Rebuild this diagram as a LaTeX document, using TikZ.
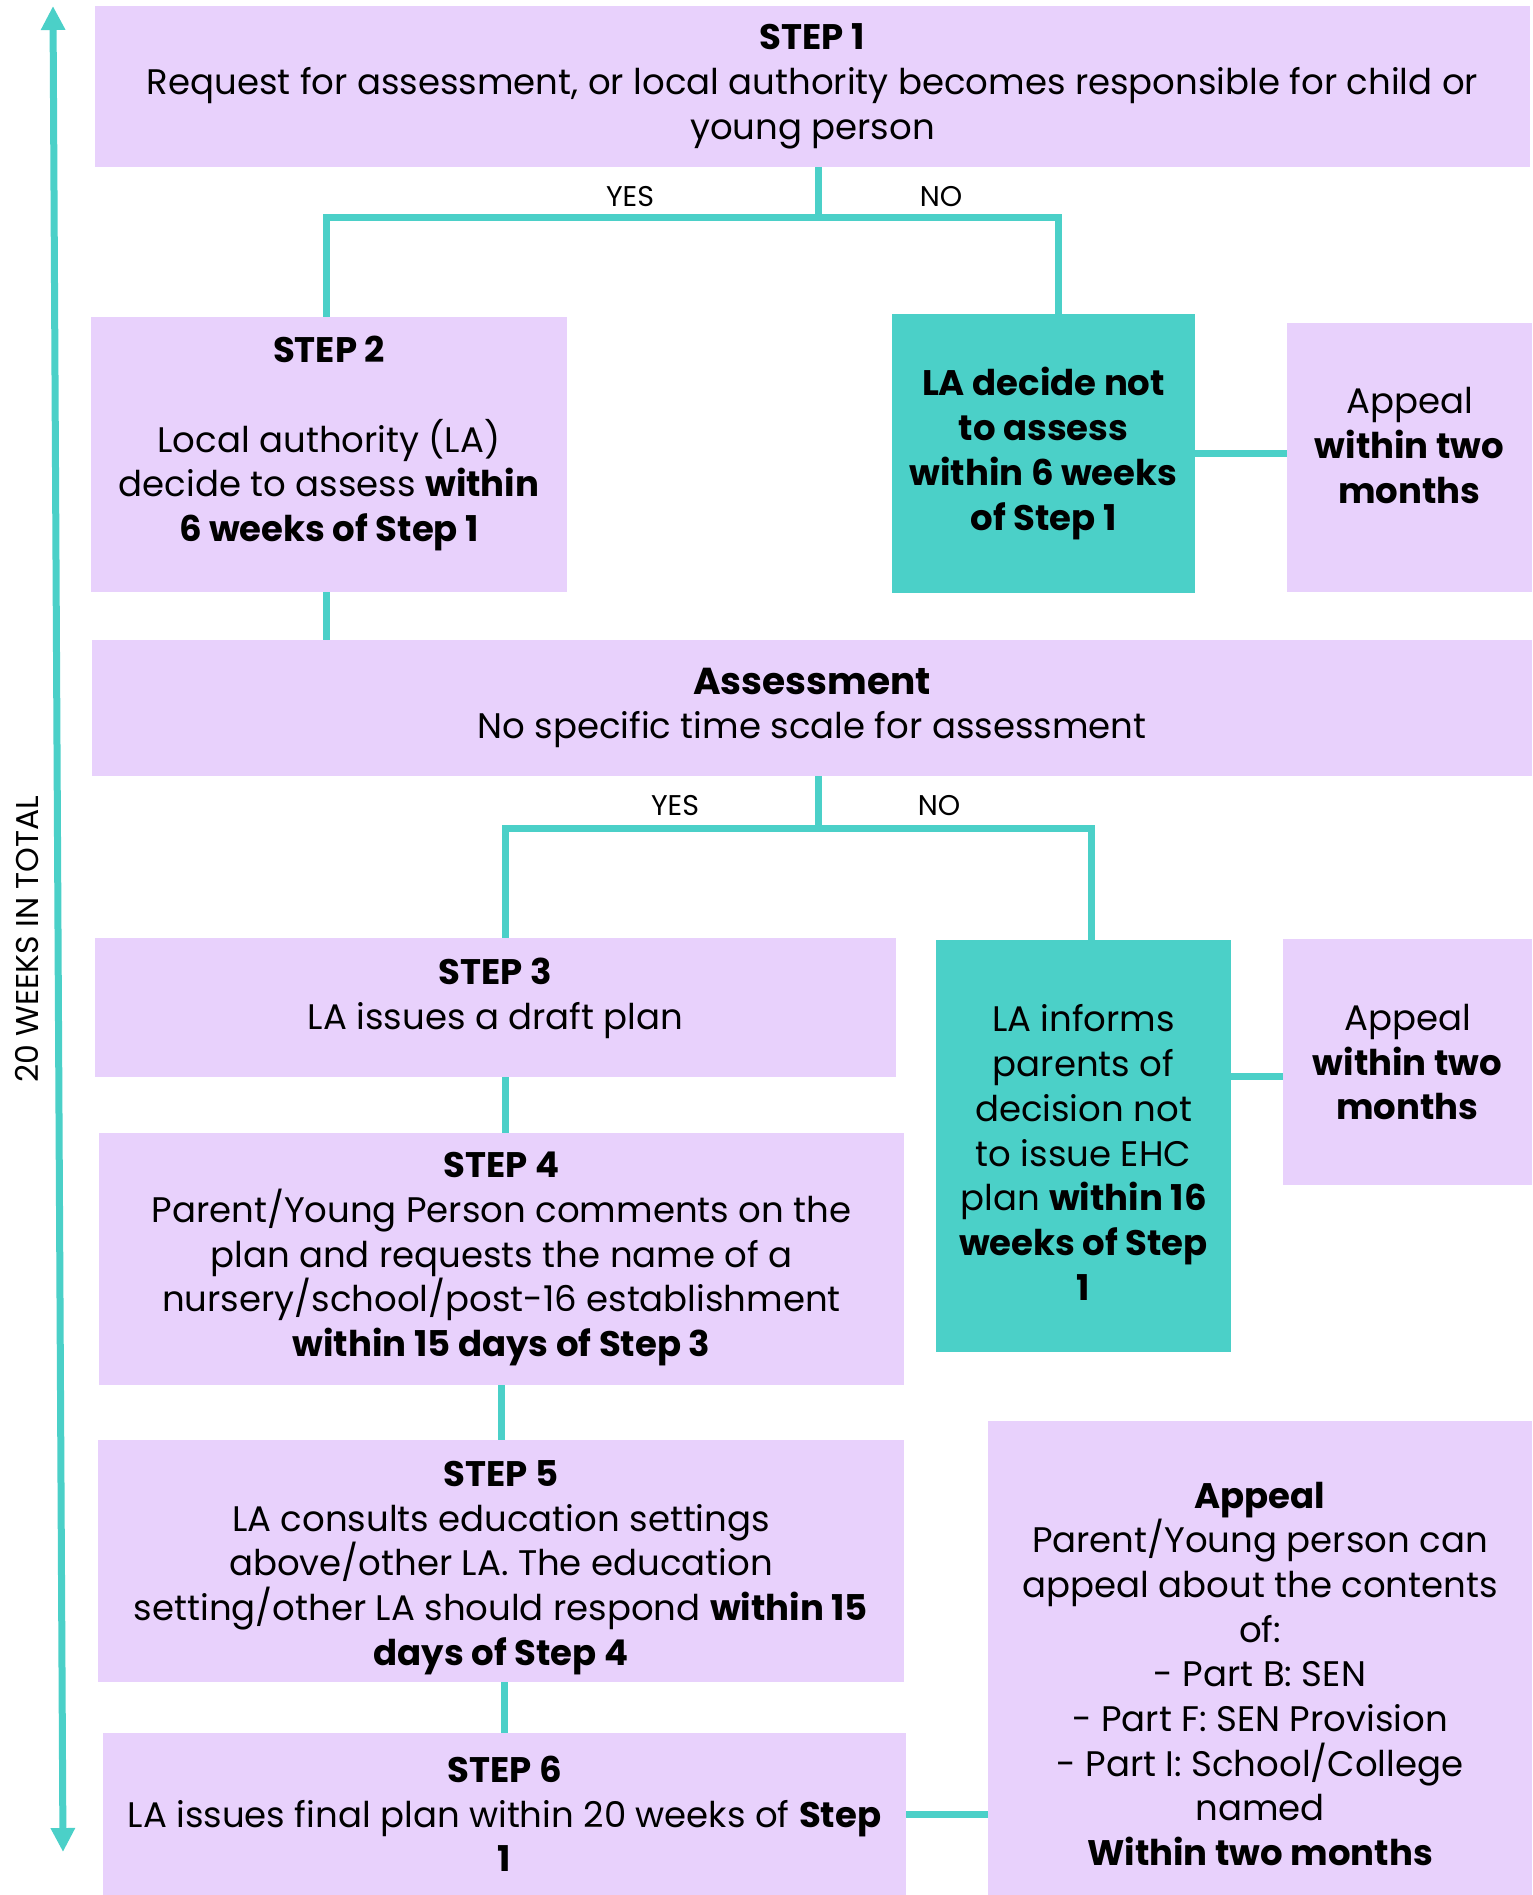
\documentclass[tikz,border=0pt]{standalone}
\usepackage{fontspec}
\setmainfont{Poppins}
\usetikzlibrary{arrows.meta}

\definecolor{lilac}{HTML}{E8D1FC}
\definecolor{sea}{HTML}{4BD0C8}

\tikzset{
  box/.style={fill=lilac, inner sep=0pt, align=center,
    font=\fontsize{35.5}{44.7}\selectfont},
  nobox/.style={box, fill=sea},
  link/.style={draw=sea, line width=7pt},
  yesno/.style={inner sep=0pt, font=\fontsize{28.5}{34}\selectfont},
  weeks/.style={{Triangle[length=24pt,width=23pt]}-{Triangle[length=24pt,width=23pt]}}
}

\begin{document}
\begin{tikzpicture}[x=1pt, y=-1pt]

  \useasboundingbox (0,0) rectangle (1532,1895);

  % The time line on the left.
  \coordinate (start) at (53,6);
  \coordinate (finish) at (63,1852);
  \draw[link, weeks] (start) -- (finish);
  \node[rotate=90, inner sep=0pt, font=\fontsize{31.5}{36}\selectfont] (total) at (27,939) {20 WEEKS IN TOTAL};

  % Request and the first decision.
  \node[box, minimum width=1435pt, minimum height=161pt] (step1) at (812.5,86.5)
    {\textbf{STEP 1}\\Request for assessment, or local authority becomes responsible for child or\\young person};

  \node[box, minimum width=476pt, minimum height=275pt] (step2) at (329,454.5)
    {\textbf{STEP 2}\\[44.7pt]Local authority (LA)\\decide to assess \textbf{within}\\\textbf{6 weeks of Step 1}\rule[-31pt]{0pt}{31pt}};

  \node[nobox, minimum width=303pt, minimum height=279pt, font=\fontsize{35.5}{44.7}\selectfont\bfseries] (nodecide) at (1043.5,453.5)
    {LA decide not\\to assess\\within 6 weeks\\of Step 1};

  \node[box, minimum width=245pt, minimum height=269pt] (appeal1) at (1409.5,457.5)
    {Appeal\\\textbf{within two}\\\textbf{months}\rule[-24pt]{0pt}{24pt}};

  % Assessment.
  \node[box, minimum width=1440pt, minimum height=136pt] (assess) at (812,708)
    {{\fontsize{37.5}{48}\selectfont\textbf{Assessment}}\\No specific time scale for assessment};

  % Plan or no plan.
  \node[box, minimum width=801pt, minimum height=139pt] (step3) at (495.5,1007.5)
    {\textbf{STEP 3}\\LA issues a draft plan\rule[-28pt]{0pt}{28pt}};

  \node[nobox, minimum width=295pt, minimum height=412pt] (noplan) at (1083.5,1146)
    {\rule{0pt}{40pt}LA informs\\parents of\\decision not\\to issue EHC\\plan \textbf{within 16}\\\textbf{weeks of Step}\\\textbf{1}};

  \node[box, minimum width=249pt, minimum height=246pt] (appeal2) at (1407.5,1062)
    {Appeal\\\textbf{within two}\\\textbf{months}};

  \node[box, minimum width=805pt, minimum height=252pt] (step4) at (501.5,1259)
    {\textbf{STEP 4}\\Parent/Young Person comments on the\\plan and requests the name of a\\nursery/school/post-16 establishment\\\textbf{within 15 days of Step 3}};

  \node[box, minimum width=806pt, minimum height=242pt] (step5) at (501,1561)
    {\rule{0pt}{39pt}\textbf{STEP 5}\\LA consults education settings\\above/other LA. The education\\setting/other LA should respond \textbf{within 15}\\\textbf{days of Step 4}};

  \node[box, minimum width=803pt, minimum height=162pt] (step6) at (504.5,1814)
    {\textbf{STEP 6}\\LA issues final plan within 20 weeks of \textbf{Step}\\\textbf{1}};

  \node[box, minimum width=544pt, minimum height=474pt] (appeal3) at (1260,1658)
    {\rule{0pt}{58pt}\textbf{Appeal}\\Parent/Young person can\\appeal about the contents\\of:\\- Part B: SEN\\- Part F: SEN Provision\\- Part I: School/College\\named\\\textbf{Within two months}};

  % First fork.
  \coordinate (fork1) at (818,217);
  \coordinate (yes1) at (326,217);
  \coordinate (no1) at (1058,217);
  \draw[link] (fork1 |- step1.south) -- (fork1);
  \draw[link] (yes1 |- step2.north) -- (yes1) -- (no1) -- (no1 |- nodecide.north);
  \node[yesno] (yeslabel1) at (630,197) {YES};
  \node[yesno] (nolabel1) at (941,197) {NO};

  \draw[link] (nodecide.east) -- (nodecide.east -| appeal1.west);
  \draw[link] (yes1 |- step2.south) -- (yes1 |- assess.north);

  % Second fork.
  \coordinate (fork2) at (818,828);
  \coordinate (yes2) at (505,828);
  \coordinate (no2) at (1091,828);
  \draw[link] (fork2 |- assess.south) -- (fork2);
  \draw[link] (yes2 |- step3.north) -- (yes2) -- (no2) -- (no2 |- noplan.north);
  \node[yesno] (yeslabel2) at (675,806) {YES};
  \node[yesno] (nolabel2) at (939,806) {NO};

  \path (noplan.north east) ++(0,137) coordinate (tie2);
  \draw[link] (tie2) -- (tie2 -| appeal2.west);

  % Down the steps.
  \draw[link] (yes2 |- step3.south) -- (yes2 |- step4.north);
  \draw[link] (step4.south) -- (step4.south |- step5.north);
  \draw[link] (step5.south -| step6.north) -- (step6.north);
  \draw[link] (step6.east) -- (step6.east -| appeal3.west);

\end{tikzpicture}
\end{document}
